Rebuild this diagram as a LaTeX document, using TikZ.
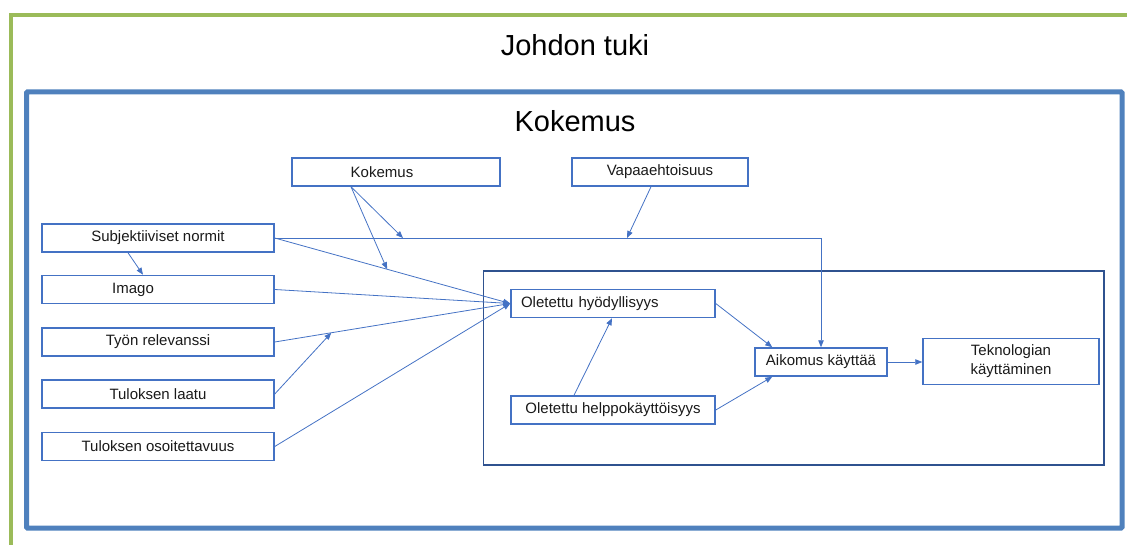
\documentclass[tikz,border=0pt]{standalone}
\usepackage{fontspec}
\setmainfont{Liberation Sans}
\usetikzlibrary{arrows.meta,calc}
\definecolor{frgreen}{HTML}{9BBB59}
\definecolor{frblue}{HTML}{4F81BD}
\definecolor{bxblue}{HTML}{4472C4}
\definecolor{inblue}{HTML}{2F528F}
\definecolor{txt}{HTML}{1A1A1A}
\begin{document}
\begin{tikzpicture}[x=1pt,y=-1pt,
  box/.style={draw=bxblue,line width=1.5pt,fill=white,inner sep=0pt,text=txt,
    font=\fontsize{15}{19}\selectfont,align=center},
  lbox/.style={box,minimum width=232pt,minimum height=28pt},
  conn/.style={draw=bxblue,line width=0.8pt,-{Triangle[length=7pt,width=5.5pt]}},
  title/.style={text=black,font=\fontsize{29}{34}\selectfont,inner sep=0pt}]
\useasboundingbox (0,0) rectangle (1127,545);
\begin{scope}
\clip (0,0) rectangle (1127,545);
\draw[frgreen,line width=4.5pt] (11,15) rectangle (1145,565);
\end{scope}
\draw[frblue,line width=5pt,rounded corners=1pt] (26.5,92) rectangle (1122,528);
\node[title] (jt) at (575,45) {Johdon tuki};
\node[title] (kt) at (575,121) {Kokemus};
\draw[inblue,line width=1.6pt] (483.5,271) rectangle (1104,465);
% top boxes
\node[box,minimum width=208pt,minimum height=28pt] (kok) at (396,172) {\hspace*{-28pt}Kokemus};
\node[box,minimum width=176pt,minimum height=28pt] (vap) at (660,172) {Vapaaehtoisuus};
% left boxes
\node[lbox] (subj) at (158,238) {Subjektiiviset normit};
\node[lbox] (ima) at (158,289.5) {\hspace*{-50pt}Imago};
\node[lbox] (tyo) at (158,342) {Työn relevanssi};
\node[lbox] (tla) at (158,394) {Tuloksen laatu};
\node[lbox] (tos) at (158,446.5) {Tuloksen osoitettavuus};
% inner boxes
\node[box,minimum width=204pt,minimum height=28pt,align=left,text width=184pt] (oh) at (613,303.5) {Oletettu hyödyllisyys};
\node[box,minimum width=204pt,minimum height=28pt] (ohk) at (613,410) {Oletettu helppokäyttöisyys};
\node[box,minimum width=132pt,minimum height=28pt] (aik) at (821,362) {Aikomus käyttää};
\node[box,minimum width=176pt,minimum height=46pt] (tek) at (1011,361.5) {Teknologian\\käyttäminen};
% coordinates
\coordinate (kokA) at ($(kok.south)+(-45,0)$);
\coordinate (vapA) at ($(vap.south)+(-9,0)$);
\coordinate (h1) at (403,238);
\coordinate (h2) at (627,238);
\coordinate (d1) at ($(subj.east)!0.477!(oh.west)$);
\coordinate (d2) at ($(tyo.east)!0.24!(oh.west)$);
\coordinate (sb) at ($(subj.south)+(-30,0)$);
\coordinate (it) at ($(ima.north)+(-15,0)$);
\coordinate (hkA) at ($(ohk.north)+(-39,0)$);
\coordinate (ohB) at ($(oh.south)+(-1,0)$);
\coordinate (aT) at ($(aik.north west)+(18,0)$);
\coordinate (aB) at ($(aik.south west)+(18,0)$);
% connectors
\draw[conn] (subj.east) -| (aik.north);
\draw[conn] (kokA) -- (h1);
\draw[conn] (kokA) -- (d1);
\draw[conn] (vapA) -- (h2);
\draw[conn] (subj.east) -- (oh.west);
\draw[conn] (ima.east) -- (oh.west);
\draw[conn] (tyo.east) -- (oh.west);
\draw[conn] (tla.east) -- (d2);
\draw[conn] (tos.east) -- (oh.west);
\draw[conn] (sb) -- (it);
\draw[conn] (hkA) -- (ohB);
\draw[conn] (oh.east) -- (aT);
\draw[conn] (ohk.east) -- (aB);
\draw[conn] (aik.east) -- (aik.east -| tek.west);
\end{tikzpicture}
\end{document}
